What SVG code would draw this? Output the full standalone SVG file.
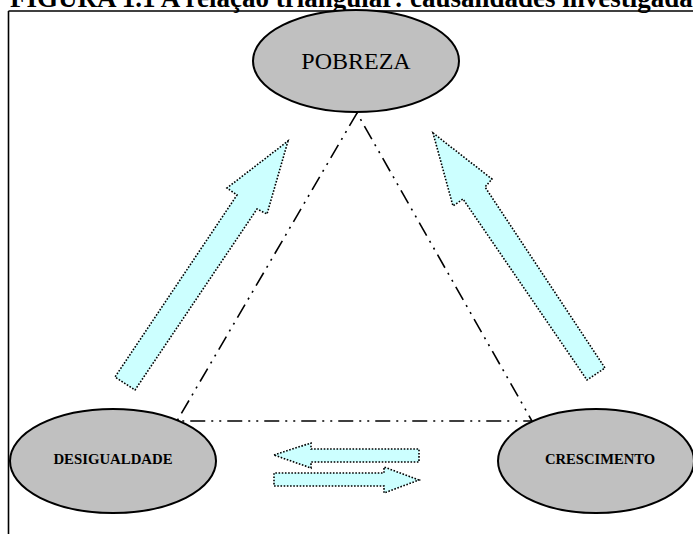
<svg xmlns="http://www.w3.org/2000/svg" width="693" height="534" viewBox="0 0 693 534">
<style>
.node{fill:#c0c0c0;stroke:#000;stroke-width:2}
.tri{fill:none;stroke:#000;stroke-width:1.6;stroke-dasharray:15 6 2 6 2 6}
.arr{fill:#ccffff;stroke:#000;stroke-width:1.6;stroke-dasharray:1.6 1.6}
.t{font-family:"Liberation Serif","Times New Roman",serif;fill:#000;text-anchor:middle}
</style>
<rect width="693" height="534" fill="#fff"/>
<text x="10" y="6.5" font-family="Liberation Serif, Times New Roman, serif" font-weight="bold" font-size="27">FIGURA 1.1 A relação triangular: causalidades investigadas</text>
<g id="frame" fill="none" stroke="#000" stroke-width="1.6">
<line x1="8.5" y1="11" x2="693" y2="11"/>
<line x1="8.5" y1="11" x2="8.5" y2="534"/>
</g>
<g id="connectors">
<path class="tri" d="M357 113 L177 421 L532 421 Z"/>
<polygon class="arr" points="288,141 267,214 257,209 135,390 115,377 237,195 227,188"/>
<polygon class="arr" points="433,133 492,179 485,187 605,368 587,380 463,199 453,206"/>
<polygon class="arr" points="274,455 311,443 311,449 419,449 419,462 311,462 311,468"/>
<polygon class="arr" points="419,480 384,467 384,473 274,473 274,486 384,486 384,493"/>
</g>
<g id="pobreza">
<ellipse class="node" cx="356" cy="61" rx="103" ry="51"/>
<text class="t" x="356" y="69" font-size="24">POBREZA</text>
</g>
<g id="desigualdade">
<ellipse class="node" cx="113" cy="461" rx="103" ry="52"/>
<text class="t" x="113" y="464" font-size="14.8" font-weight="bold">DESIGUALDADE</text>
</g>
<g id="crescimento">
<ellipse class="node" cx="596" cy="461" rx="98" ry="52"/>
<text class="t" x="600" y="464" font-size="14.6" font-weight="bold">CRESCIMENTO</text>
</g>
</svg>
